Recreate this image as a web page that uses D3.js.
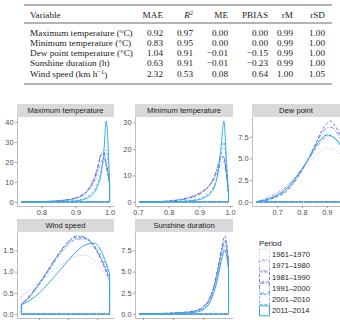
<!DOCTYPE html>
<html>
<head>
<meta charset="utf-8">
<script src="https://cdn.jsdelivr.net/npm/d3@7"></script>
<style>
body { margin: 0; background: #fff; }
svg { display: block; }
</style>
</head>
<body>
<div id="chart"></div>
<script>
// table values
const tableCols = ["MAE", "R2", "ME", "PBIAS", "rM", "rSD"]
const tableVars = ["Maximum temperature (°C)", "Minimum temperature (°C)", "Dew point temperature (°C)",
    "Sunshine duration (h)", "Wind speed (km h^−1)"]
const maeVals = [0.92, 0.83, 1.04, 0.63, 2.32]
const r2Vals = [0.97, 0.95, 0.91, 0.91, 0.53]
const meVals = [0.00, 0.00, -0.01, -0.01, 0.08]
const pbiasVals = [0.00, 0.00, -0.15, -0.23, 0.64]
const rmVals = [0.99, 0.99, 0.99, 0.99, 1.00]
const rsdVals = [1.00, 1.00, 1.00, 1.00, 1.05]

// density curves, one row per period
const periods = ["1961–1970", "1971–1980", "1981–1990", "1991–2000", "2001–2010", "2011–2014"]

const maxTempX = [0.741, 0.78, 0.82, 0.86, 0.89, 0.91, 0.93, 0.945, 0.955, 0.965, 0.975, 0.983, 0.99, 1.0]
const maxTempY = [
    [0, 0.1, 0.35, 0.9, 1.6, 2.6, 4.5, 7, 9.5, 13, 17.5, 20, 19, 9],
    [0, 0.1, 0.3, 0.8, 1.5, 2.5, 4.5, 7.5, 10.5, 15, 20, 22, 19, 9],
    [0, 0.05, 0.25, 0.7, 1.4, 2.4, 4.5, 8, 11.5, 17, 23.5, 24, 18, 9],
    [0, 0.05, 0.25, 0.7, 1.5, 2.6, 5, 8.5, 12, 17.5, 24, 25, 19, 10],
    [0, 0, 0.1, 0.3, 0.6, 1.1, 2.2, 4, 6, 9.5, 15.5, 22, 26, 10],
    [0, 0, 0.05, 0.15, 0.35, 0.7, 1.5, 3, 4.8, 8, 14, 25, 40.5, 9]
]

const minTempX = [0.705, 0.75, 0.80, 0.84, 0.87, 0.90, 0.92, 0.94, 0.95, 0.96, 0.97, 0.98, 0.988, 0.995]
const minTempY = [
    [0, 0.1, 0.5, 1.2, 2.2, 3.6, 5, 7, 8.5, 10, 11.8, 13, 11, 3],
    [0, 0.1, 0.4, 1.0, 1.9, 3.3, 4.8, 7.2, 9, 11.5, 14, 15, 11, 3],
    [0, 0.05, 0.3, 0.8, 1.6, 3, 4.6, 7.5, 10, 13, 16.5, 17, 11, 3],
    [0, 0.05, 0.3, 0.8, 1.6, 3, 4.6, 7.5, 9.8, 13.5, 17.5, 16.5, 10, 3],
    [0, 0, 0.1, 0.3, 0.6, 1.3, 2.4, 4.5, 6.5, 10.5, 17, 22.5, 14, 3],
    [0, 0, 0.05, 0.15, 0.4, 0.9, 1.8, 3.8, 6, 10.5, 20, 30.5, 16, 2.5]
]

// the dew point panel runs past the right edge of the picture
const dewX = [0.616, 0.65, 0.70, 0.74, 0.77, 0.80, 0.83, 0.86, 0.88, 0.90, 0.915, 0.932, 0.945, 0.96]
const dewY = [
    [0.05, 0.4, 1.1, 1.9, 2.8, 3.7, 4.6, 5.5, 5.9, 6.2, 6.2, 6.0, 5.7, 5.3],
    [0.03, 0.3, 1.0, 1.8, 2.7, 3.8, 5.0, 6.3, 7.0, 7.5, 7.6, 7.3, 6.9, 6.3],
    [0.02, 0.15, 0.6, 1.3, 2.3, 3.6, 5.2, 7.0, 8.2, 9.0, 9.3, 8.8, 8.2, 7.4],
    [0.02, 0.15, 0.7, 1.4, 2.4, 3.7, 5.2, 6.9, 7.9, 8.5, 8.6, 8.3, 7.8, 7.1],
    [0.02, 0.2, 0.8, 1.6, 2.6, 3.8, 5.1, 6.5, 7.3, 7.7, 7.7, 7.4, 7.0, 6.4],
    [0.02, 0.2, 0.8, 1.6, 2.6, 3.8, 5.1, 6.6, 7.3, 7.7, 7.6, 7.3, 6.9, 6.3]
]

const windX = [0.278, 0.33, 0.40, 0.47, 0.54, 0.61, 0.66, 0.72, 0.78, 0.84, 0.886]
const windY = [
    [0.42, 0.55, 0.74, 0.94, 1.13, 1.29, 1.37, 1.38, 1.27, 1.02, 0.76],
    [0.24, 0.42, 0.72, 1.06, 1.40, 1.66, 1.76, 1.76, 1.58, 1.20, 0.82],
    [0.22, 0.40, 0.72, 1.08, 1.44, 1.72, 1.82, 1.79, 1.58, 1.18, 0.78],
    [0.22, 0.40, 0.71, 1.08, 1.45, 1.74, 1.84, 1.80, 1.60, 1.22, 0.85],
    [0.22, 0.38, 0.68, 1.03, 1.40, 1.68, 1.78, 1.78, 1.62, 1.30, 0.95],
    [0.22, 0.31, 0.49, 0.74, 1.02, 1.30, 1.48, 1.63, 1.67, 1.40, 0.95]
]

const sunX = [0.688, 0.75, 0.80, 0.84, 0.87, 0.90, 0.92, 0.935, 0.95, 0.962, 0.973, 0.985]
const sunY = [
    [0, 0.05, 0.1, 0.2, 0.35, 0.8, 1.6, 2.9, 4.9, 6.6, 7.6, 5.5],
    [0, 0.1, 0.15, 0.25, 0.4, 0.9, 1.8, 3.2, 5.4, 7.3, 8.5, 6.0],
    [0, 0.05, 0.12, 0.2, 0.35, 0.8, 1.7, 3.1, 5.5, 7.8, 9.2, 6.3],
    [0, 0.05, 0.1, 0.18, 0.3, 0.75, 1.6, 3.0, 5.3, 7.4, 8.7, 6.0],
    [0, 0.03, 0.08, 0.15, 0.25, 0.6, 1.4, 2.7, 4.8, 6.8, 8.0, 5.6],
    [0, 0.03, 0.07, 0.12, 0.2, 0.5, 1.2, 2.4, 4.4, 6.4, 7.5, 5.2]
]

// look
const periodColors = ["#b3a0e6", "#8f86ea", "#4d56d8", "#3f72e0", "#4ea3e8", "#33aedc"]
const periodDash = ["1,1.8", "1,1.5,3,1.5", "3,2", "4.5,1.5,1,1.5", "2.5,2", null]
const periodWidth = [0.8, 0.8, 0.8, 0.8, 0.8, 1]

const sans = "'Liberation Sans', Arial, sans-serif"
const serif = "'Liberation Serif', 'Times New Roman', serif"

let svg = d3.select("#chart")
    .append("svg")
    .attr("width", 340)
    .attr("height", 320)

// ---- table ----
let tbl = svg.append("g")
    .attr("font-family", serif)
    .attr("font-size", 9.2)
    .attr("fill", "#222")

const colRight = [163, 193, 228, 268, 293, 325]
const rowY = [32.3, 42.3, 52.3, 62.3, 73.6]
const headerY = 14.5

;[5, 23, 84].forEach(yy => {
    tbl.append("line")
        .attr("x1", 24).attr("x2", 332)
        .attr("y1", yy).attr("y2", yy)
        .attr("stroke", "#444")
        .attr("stroke-width", 0.8)
})

tbl.append("text").attr("x", 30).attr("y", headerY).attr("dy", "0.35em").text("Variable")
tableCols.forEach((c, i) => {
    let t = tbl.append("text")
        .attr("x", colRight[i]).attr("y", headerY).attr("dy", "0.35em")
        .attr("text-anchor", "end")
    if (c == "R2") {
        t.append("tspan").attr("font-style", "italic").text("R")
        t.append("tspan").attr("font-size", 6.5).attr("dy", "-0.45em").text("2")
    } else {
        t.text(c)
    }
})

const colVals = [maeVals, r2Vals, meVals, pbiasVals, rmVals, rsdVals]
const fmt2 = d3.format(".2f")
tableVars.forEach((v, r) => {
    let t = tbl.append("text").attr("x", 30).attr("y", rowY[r]).attr("dy", "0.35em")
    if (v.includes("^")) {
        let parts = v.split("^")
        t.append("tspan").text(parts[0])
        t.append("tspan").attr("font-size", 6.5).attr("dy", "-0.45em").text(parts[1].replace(")", ""))
        t.append("tspan").attr("dy", "0.45em").text(")")
    } else {
        t.text(v)
    }
    colVals.forEach((vals, c) => {
        tbl.append("text")
            .attr("x", colRight[c]).attr("y", rowY[r]).attr("dy", "0.35em")
            .attr("text-anchor", "end")
            .text(fmt2(vals[r]))
    })
})

// ---- density panels ----
// bottom row tick labels fall below the visible area, so only the tick marks are drawn
const panels = [
    {title: "Maximum temperature", xs: maxTempX, ys: maxTempY, left: 17, right: 114, top: 117, bottom: 206,
        xTicks: [0.8, 0.9, 1.0], xLabels: true, yTicks: [0, 10, 20, 30, 40], yFmt: d3.format("d")},
    {title: "Minimum temperature", xs: minTempX, ys: minTempY, left: 135, right: 233, top: 117, bottom: 206,
        xTicks: [0.7, 0.8, 0.9, 1.0], xLabels: true, yTicks: [0, 10, 20, 30], yFmt: d3.format("d")},
    {title: "Dew point", xs: dewX, ys: dewY, left: 252, right: 346, top: 117, bottom: 206,
        xTicks: [0.7, 0.8, 0.9], xLabels: true, yTicks: [0, 2.5, 5, 7.5], yFmt: d3.format(".1f"), stripW: 88},
    {title: "Wind speed", xs: windX, ys: windY, left: 17, right: 114, top: 232, bottom: 318,
        xTicks: [0.4, 0.6, 0.8], xLabels: false, yTicks: [0, 0.5, 1, 1.5], yFmt: d3.format(".1f")},
    {title: "Sunshine duration", xs: sunX, ys: sunY, left: 135, right: 233, top: 232, bottom: 318,
        xTicks: [0.7, 0.8, 0.9], xLabels: false, yTicks: [0, 2.5, 5, 7.5], yFmt: d3.format(".1f")}
]
const stripH = 13

panels.forEach(p => {
    let g = svg.append("g")

    let ext = d3.extent(p.xs)
    let span = ext[1] - ext[0]
    let x = d3.scaleLinear()
        .domain([ext[0] - 0.05 * span, ext[1] + 0.05 * span])
        .range([p.left, p.right])
    let m = d3.max(p.ys, s => d3.max(s))
    let y = d3.scaleLinear()
        .domain([-0.05 * m, 1.05 * m])
        .range([p.bottom, p.top])

    // strip
    let sw = p.stripW || (p.right - p.left)
    g.append("rect")
        .attr("x", p.left).attr("y", p.top - stripH)
        .attr("width", p.right - p.left).attr("height", stripH)
        .attr("fill", "#d9d9d9")
    g.append("text")
        .attr("x", p.left + sw / 2).attr("y", p.top - stripH / 2)
        .attr("dy", "0.35em")
        .attr("text-anchor", "middle")
        .attr("font-family", sans).attr("font-size", 7.6)
        .attr("fill", "#1a1a1a")
        .text(p.title)

    // axes
    let yAxis = g.append("g")
        .attr("transform", "translate(" + p.left + ",0)")
        .call(d3.axisLeft(y).tickValues(p.yTicks).tickFormat(p.yFmt).tickSize(2).tickSizeOuter(0).tickPadding(1.5))
    let xAxis = g.append("g")
        .attr("transform", "translate(0," + p.bottom + ")")
        .call(d3.axisBottom(x).tickValues(p.xTicks)
            .tickFormat(p.xLabels ? d3.format(".1f") : () => "")
            .tickSize(2).tickSizeOuter(0).tickPadding(1.5))
    ;[xAxis, yAxis].forEach(a => {
        a.select(".domain").attr("stroke", "#b5b5b5").attr("stroke-width", 0.9)
        a.selectAll(".tick line").attr("stroke", "#8a8a8a").attr("stroke-width", 0.8)
        a.selectAll(".tick text")
            .attr("font-family", sans).attr("font-size", 7.4)
            .attr("fill", "#4d4d4d")
    })

    // curves drawn as closed density outlines
    let area = d3.area()
        .x((d, i) => x(p.xs[i]))
        .y0(y(0))
        .y1(d => y(d))
        .curve(d3.curveMonotoneX)
    p.ys.forEach((s, i) => {
        g.append("path")
            .attr("d", area(s))
            .attr("fill", "none")
            .attr("stroke", periodColors[i])
            .attr("stroke-width", periodWidth[i])
            .attr("stroke-dasharray", periodDash[i])
    })
})

// ---- legend ----
let leg = svg.append("g")
    .attr("font-family", sans)
    .attr("fill", "#1a1a1a")
leg.append("text")
    .attr("x", 259).attr("y", 243).attr("dy", "0.35em")
    .attr("font-size", 7.8)
    .text("Period")
periods.forEach((p, i) => {
    let cy = 254.3 + i * 11.3
    leg.append("rect")
        .attr("x", 259.5).attr("y", cy - 5)
        .attr("width", 10).attr("height", 10)
        .attr("fill", "none")
        .attr("stroke", periodColors[i])
        .attr("stroke-width", periodWidth[i])
        .attr("stroke-dasharray", periodDash[i])
    leg.append("text")
        .attr("x", 272).attr("y", cy).attr("dy", "0.35em")
        .attr("font-size", 7.6)
        .text(p)
})
</script>
</body>
</html>
